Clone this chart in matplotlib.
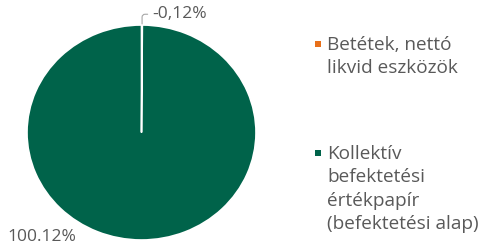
import matplotlib.pyplot as plt
from matplotlib.patches import Rectangle

categories = ['Betétek, nettó\nlikvid eszközök',
              'Kollektív\nbefektetési\nértékpapír\n(befektetési alap)']
values = [-0.12, 100.12]
pct_labels = ['-0,12%', '100.12%']
colors = ['#E8701A', '#00634A']

plt.rcParams['font.family'] = ['Open Sans', 'DejaVu Sans']
txt = '#595959'
fs = 12.5
fs_leg = 13.7

W, H = 484, 247
fig = plt.figure(figsize=(W / 100, H / 100), dpi=100)
# pie is slightly stretched horizontally in the reference
ax = fig.add_axes([27 / W, (H - 240) / H, 229 / W, 215 / H])
wedges, _ = ax.pie([abs(v) for v in values], colors=colors, startangle=90,
                   counterclock=False, radius=1,
                   wedgeprops=dict(edgecolor='white', linewidth=1.2))
ax.set_aspect('auto')
ax.set_xlim(-1, 1)
ax.set_ylim(-1, 1)

# data labels
ax.annotate(pct_labels[0], xy=(0.005, 1.01), xytext=(0.09, 1.10),
            textcoords='data', ha='left', va='center', fontsize=fs,
            color=txt, annotation_clip=False,
            arrowprops=dict(arrowstyle='-', color='#A6A6A6', lw=0.8,
                            connectionstyle='angle,angleA=0,angleB=90,rad=3',
                            shrinkA=1, shrinkB=0))
ax.text(-1.17, -0.97, pct_labels[1], ha='left', va='center', fontsize=fs,
        color=txt, clip_on=False)

# legend: square next to first line of each entry
leg_y = [44, 153]
for cat, col, y in zip(categories, colors, leg_y):
    fig.patches.append(Rectangle((315 / W, 1 - (y + 3) / H), 6 / W, 6 / H,
                                 transform=fig.transFigure,
                                 facecolor=col, edgecolor='none'))
    fig.text(327 / W, 1 - (y - 8) / H, cat, ha='left', va='top',
             fontsize=fs_leg, color=txt, linespacing=1.38)

fig.savefig('out.png', dpi=100)
